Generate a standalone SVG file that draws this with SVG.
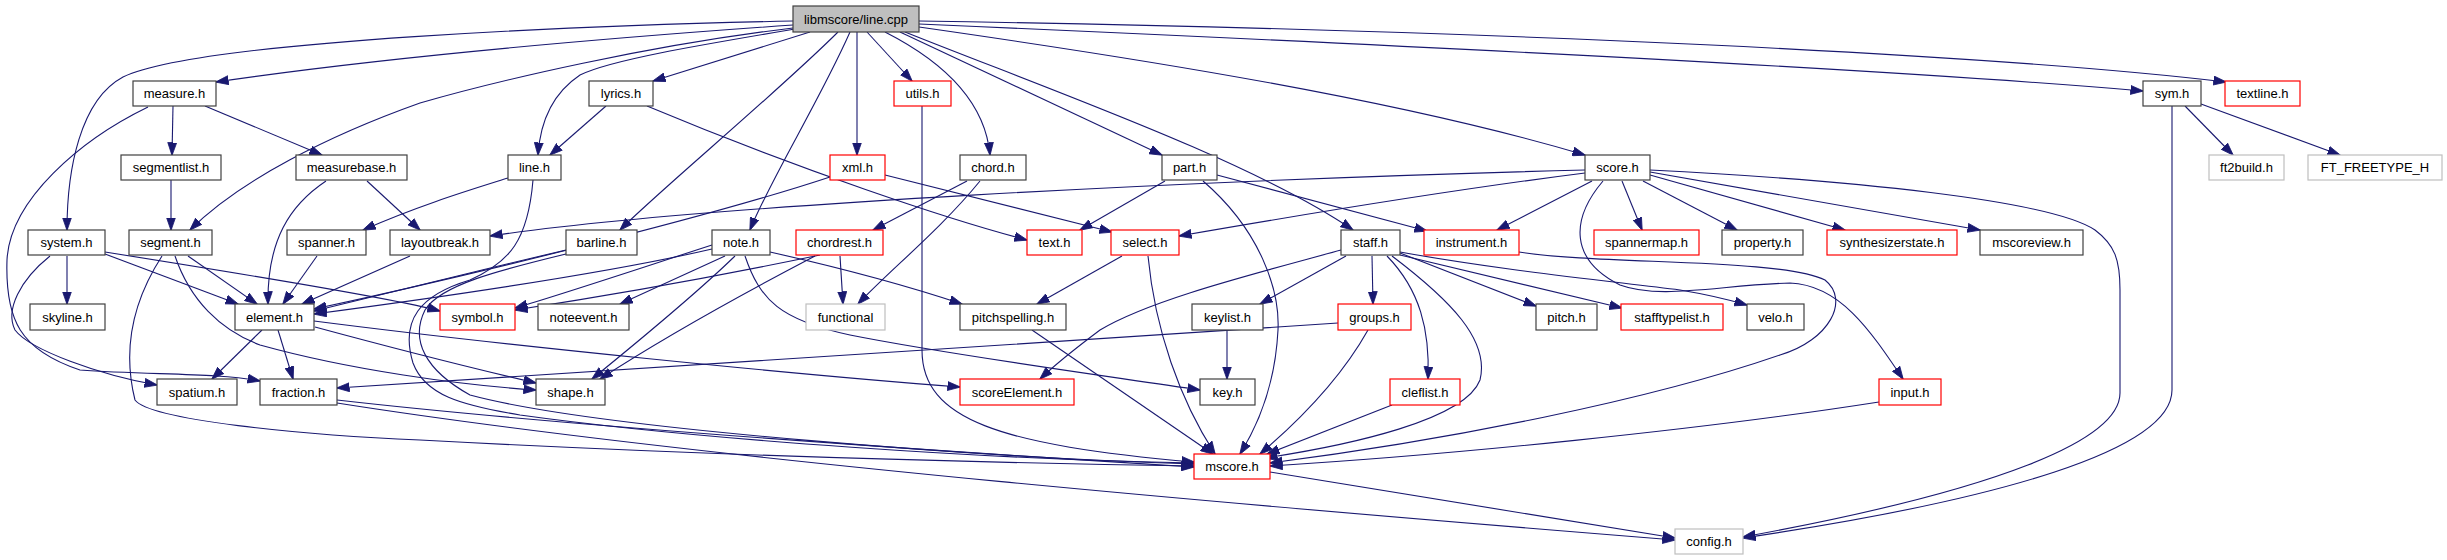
<svg xmlns="http://www.w3.org/2000/svg" width="2447" height="560" viewBox="0 0 2447 560">
<style>
.n rect{fill:#fff;stroke:#404040;stroke-width:1.2}
.r rect{fill:#fff;stroke:#ff0000;stroke-width:1.2}
.g rect{fill:#fff;stroke:#bfbfbf;stroke-width:1.2}
.root rect{fill:#bfbfbf;stroke:#404040;stroke-width:1.2}
text{font-family:"Liberation Sans",Arial,sans-serif;font-size:13px;text-anchor:middle;fill:#000}
#edges path{fill:none;stroke:#191970;stroke-width:1.1;marker-end:url(#ah)}
</style>
<defs>
<marker id="ah" markerUnits="userSpaceOnUse" markerWidth="13" markerHeight="10" viewBox="0 0 13 10" refX="12.5" refY="5" orient="auto"><path d="M0,0.5 L13,5 L0,9.5 z" fill="#191970" stroke="#191970" stroke-width="0.8"/></marker>
</defs>
<rect width="2447" height="560" fill="#fff"/>
<g id="edges">
<path d="M793,25 C650,35 400,55 216,82"/>
<path d="M793,21 C600,25 200,40 123,77 C80,100 67,170 67,230"/>
<path d="M793,28 C650,45 500,80 420,103 C330,135 240,180 190,230"/>
<path d="M795,29 C700,45 610,60 580,75 C550,95 540,125 538,155"/>
<path d="M810,32 L653,81"/>
<path d="M838,32 C780,90 660,190 620,230"/>
<path d="M850,32 C820,100 770,180 750,230"/>
<path d="M857,32 L857,155"/>
<path d="M867,32 L912,81"/>
<path d="M885,32 C940,60 985,100 990,155"/>
<path d="M900,32 L1162,155"/>
<path d="M905,32 C1050,90 1250,160 1353,230"/>
<path d="M919,27 C1150,60 1400,100 1585,155"/>
<path d="M919,24 C1400,45 1900,70 2143,91"/>
<path d="M919,21 C1500,30 2000,55 2226,82"/>
<path d="M606,106 L550,155"/>
<path d="M647,106 C800,170 950,220 1027,240"/>
<path d="M173,106 L172,155"/>
<path d="M205,106 L322,155"/>
<path d="M148,107 C80,140 10,200 7,260 C5,320 20,350 80,370 C150,375 220,373 260,381"/>
<path d="M50,256 C20,280 5,310 15,330 C30,350 100,375 157,385"/>
<path d="M67,256 L67,304"/>
<path d="M105,254 L238,304"/>
<path d="M105,252 C250,275 400,300 440,311"/>
<path d="M171,180 L171,230"/>
<path d="M188,256 L257,304"/>
<path d="M175,256 C190,300 220,330 260,345 C350,370 460,385 536,390"/>
<path d="M162,256 C140,290 120,340 135,400 C150,420 300,435 420,440 C700,455 1000,463 1194,466"/>
<path d="M326,181 C290,205 267,240 268,304"/>
<path d="M367,181 L420,230"/>
<path d="M508,178 C470,190 420,205 363,230"/>
<path d="M533,180 C528,240 510,262 470,280 C420,295 400,320 413,363 C425,395 460,405 520,415 C700,440 1000,460 1194,463"/>
<path d="M317,256 L283,304"/>
<path d="M410,256 L302,304"/>
<path d="M566,250 C480,270 380,295 314,311"/>
<path d="M566,254 C500,270 440,285 425,310 C410,340 425,370 470,395 C600,430 1000,458 1194,464"/>
<path d="M712,249 C600,275 420,300 314,314"/>
<path d="M712,245 C650,265 560,295 515,308"/>
<path d="M725,256 L620,304"/>
<path d="M735,256 C700,290 640,340 592,379"/>
<path d="M770,252 C850,270 920,290 962,304"/>
<path d="M745,256 C760,300 780,320 850,335 C950,355 1100,375 1200,390"/>
<path d="M820,255 C700,280 580,300 515,310"/>
<path d="M840,256 L843,304"/>
<path d="M815,256 C750,290 660,340 600,379"/>
<path d="M967,181 L873,230"/>
<path d="M980,181 C940,230 890,270 858,304"/>
<path d="M885,175 L1112,232"/>
<path d="M830,177 C700,220 450,280 314,309"/>
<path d="M922,106 L922,350 C922,420 1000,445 1194,462"/>
<path d="M1165,181 L1080,230"/>
<path d="M1217,175 L1427,231"/>
<path d="M1203,181 C1260,230 1280,290 1278,330 C1275,390 1255,430 1240,454"/>
<path d="M1122,256 L1037,304"/>
<path d="M1148,256 C1155,330 1180,400 1215,454"/>
<path d="M1032,330 L1213,454"/>
<path d="M1585,170 C1200,180 700,205 490,236"/>
<path d="M1585,173 C1450,190 1300,215 1179,236"/>
<path d="M1592,181 L1497,230"/>
<path d="M1622,181 L1642,230"/>
<path d="M1643,181 L1737,230"/>
<path d="M1650,175 L1845,230"/>
<path d="M1650,172 L1980,230"/>
<path d="M1650,170 C1850,180 2050,200 2095,230 C2115,245 2120,260 2120,290 L2120,393 C2120,440 2000,490 1743,537"/>
<path d="M1603,181 C1570,220 1570,260 1620,285 C1660,300 1720,285 1790,283 C1840,285 1870,330 1903,379"/>
<path d="M1519,252 C1600,265 1780,258 1825,280 C1850,300 1830,340 1780,355 C1650,400 1450,440 1270,463"/>
<path d="M1879,402 C1700,430 1450,455 1270,466"/>
<path d="M1341,250 C1250,275 1150,300 1100,330 C1080,345 1060,360 1040,379"/>
<path d="M1346,256 L1260,304"/>
<path d="M1372,256 L1373,304"/>
<path d="M1387,256 C1420,290 1430,330 1428,379"/>
<path d="M1392,256 C1450,300 1490,340 1480,380 C1465,420 1350,445 1265,458"/>
<path d="M1400,253 L1536,306"/>
<path d="M1400,255 L1622,308"/>
<path d="M1400,252 C1500,270 1600,280 1680,290 C1710,295 1730,300 1747,305"/>
<path d="M1338,323 C1000,345 600,372 337,388"/>
<path d="M1368,330 C1340,380 1300,420 1260,454"/>
<path d="M1227,330 L1227,379"/>
<path d="M1392,405 L1267,454"/>
<path d="M262,330 L212,379"/>
<path d="M278,330 L293,379"/>
<path d="M315,327 C400,350 480,370 536,383"/>
<path d="M314,321 C500,345 800,375 960,387"/>
<path d="M337,400 C600,430 1000,455 1194,467"/>
<path d="M337,403 C700,460 1300,510 1675,540"/>
<path d="M1270,472 L1675,538"/>
<path d="M2185,106 L2233,155"/>
<path d="M2201,104 L2340,155"/>
<path d="M2172,106 L2172,390 C2172,450 2000,500 1743,538"/>
</g>
<g id="root" class="root"><rect x="793" y="6" width="126" height="26"/><text x="856" y="23.5">libmscore/line.cpp</text></g>
<g id="measure" class="n"><rect x="133" y="81" width="83" height="25"/><text x="174.5" y="98">measure.h</text></g>
<g id="lyrics" class="n"><rect x="589" y="81" width="64" height="25"/><text x="621" y="98">lyrics.h</text></g>
<g id="utils" class="r"><rect x="894" y="81" width="57" height="25"/><text x="922.5" y="98">utils.h</text></g>
<g id="sym" class="n"><rect x="2143" y="81" width="58" height="25"/><text x="2172" y="98">sym.h</text></g>
<g id="textline" class="r"><rect x="2225" y="81" width="75" height="25"/><text x="2262.5" y="98">textline.h</text></g>
<g id="segmentlist" class="n"><rect x="121" y="155" width="100" height="25"/><text x="171" y="172">segmentlist.h</text></g>
<g id="measurebase" class="n"><rect x="296" y="155" width="111" height="25"/><text x="351.5" y="172">measurebase.h</text></g>
<g id="line" class="n"><rect x="508" y="155" width="53" height="25"/><text x="534.5" y="172">line.h</text></g>
<g id="xml" class="r"><rect x="830" y="155" width="55" height="25"/><text x="857.5" y="172">xml.h</text></g>
<g id="chord" class="n"><rect x="960" y="155" width="66" height="25"/><text x="993" y="172">chord.h</text></g>
<g id="part" class="n"><rect x="1162" y="155" width="55" height="25"/><text x="1189.5" y="172">part.h</text></g>
<g id="score" class="n"><rect x="1585" y="155" width="65" height="25"/><text x="1617.5" y="172">score.h</text></g>
<g id="ft2build" class="g"><rect x="2209" y="155" width="75" height="25"/><text x="2246.5" y="172">ft2build.h</text></g>
<g id="ftfreetype" class="g"><rect x="2308" y="155" width="134" height="25"/><text x="2375" y="172">FT_FREETYPE_H</text></g>
<g id="system" class="n"><rect x="28" y="230" width="77" height="25"/><text x="66.5" y="247">system.h</text></g>
<g id="segment" class="n"><rect x="129" y="230" width="83" height="25"/><text x="170.5" y="247">segment.h</text></g>
<g id="spanner" class="n"><rect x="287" y="230" width="79" height="25"/><text x="326.5" y="247">spanner.h</text></g>
<g id="layoutbreak" class="n"><rect x="390" y="230" width="100" height="25"/><text x="440" y="247">layoutbreak.h</text></g>
<g id="barline" class="n"><rect x="566" y="230" width="71" height="25"/><text x="601.5" y="247">barline.h</text></g>
<g id="note" class="n"><rect x="712" y="230" width="58" height="25"/><text x="741" y="247">note.h</text></g>
<g id="chordrest" class="r"><rect x="796" y="230" width="87" height="25"/><text x="839.5" y="247">chordrest.h</text></g>
<g id="text" class="r"><rect x="1027" y="230" width="55" height="25"/><text x="1054.5" y="247">text.h</text></g>
<g id="select" class="r"><rect x="1111" y="230" width="68" height="25"/><text x="1145" y="247">select.h</text></g>
<g id="staff" class="n"><rect x="1341" y="230" width="59" height="25"/><text x="1370.5" y="247">staff.h</text></g>
<g id="instrument" class="r"><rect x="1424" y="230" width="95" height="25"/><text x="1471.5" y="247">instrument.h</text></g>
<g id="spannermap" class="r"><rect x="1594" y="230" width="105" height="25"/><text x="1646.5" y="247">spannermap.h</text></g>
<g id="property" class="n"><rect x="1722" y="230" width="81" height="25"/><text x="1762.5" y="247">property.h</text></g>
<g id="synthesizerstate" class="r"><rect x="1827" y="230" width="130" height="25"/><text x="1892" y="247">synthesizerstate.h</text></g>
<g id="mscoreview" class="n"><rect x="1980" y="230" width="103" height="25"/><text x="2031.5" y="247">mscoreview.h</text></g>
<g id="skyline" class="n"><rect x="30" y="304" width="75" height="26"/><text x="67.5" y="321.5">skyline.h</text></g>
<g id="element" class="n"><rect x="235" y="304" width="79" height="26"/><text x="274.5" y="321.5">element.h</text></g>
<g id="symbol" class="r"><rect x="440" y="304" width="75" height="26"/><text x="477.5" y="321.5">symbol.h</text></g>
<g id="noteevent" class="n"><rect x="538" y="304" width="91" height="26"/><text x="583.5" y="321.5">noteevent.h</text></g>
<g id="functional" class="g"><rect x="806" y="304" width="79" height="26"/><text x="845.5" y="321.5">functional</text></g>
<g id="pitchspelling" class="n"><rect x="960" y="304" width="106" height="26"/><text x="1013" y="321.5">pitchspelling.h</text></g>
<g id="keylist" class="n"><rect x="1192" y="304" width="71" height="26"/><text x="1227.5" y="321.5">keylist.h</text></g>
<g id="groups" class="r"><rect x="1338" y="304" width="73" height="26"/><text x="1374.5" y="321.5">groups.h</text></g>
<g id="pitch" class="n"><rect x="1536" y="304" width="61" height="26"/><text x="1566.5" y="321.5">pitch.h</text></g>
<g id="stafftypelist" class="r"><rect x="1621" y="304" width="102" height="26"/><text x="1672" y="321.5">stafftypelist.h</text></g>
<g id="velo" class="n"><rect x="1747" y="304" width="57" height="26"/><text x="1775.5" y="321.5">velo.h</text></g>
<g id="spatium" class="n"><rect x="157" y="379" width="80" height="26"/><text x="197" y="396.5">spatium.h</text></g>
<g id="fraction" class="n"><rect x="260" y="379" width="77" height="26"/><text x="298.5" y="396.5">fraction.h</text></g>
<g id="shape" class="n"><rect x="536" y="379" width="69" height="26"/><text x="570.5" y="396.5">shape.h</text></g>
<g id="scoreElement" class="r"><rect x="960" y="379" width="114" height="26"/><text x="1017" y="396.5">scoreElement.h</text></g>
<g id="key" class="n"><rect x="1200" y="379" width="55" height="26"/><text x="1227.5" y="396.5">key.h</text></g>
<g id="cleflist" class="r"><rect x="1390" y="379" width="70" height="26"/><text x="1425" y="396.5">cleflist.h</text></g>
<g id="input" class="r"><rect x="1879" y="379" width="62" height="26"/><text x="1910" y="396.5">input.h</text></g>
<g id="mscore" class="r"><rect x="1194" y="454" width="76" height="25"/><text x="1232" y="471">mscore.h</text></g>
<g id="config" class="g"><rect x="1675" y="529" width="68" height="25"/><text x="1709" y="546">config.h</text></g>
</svg>
